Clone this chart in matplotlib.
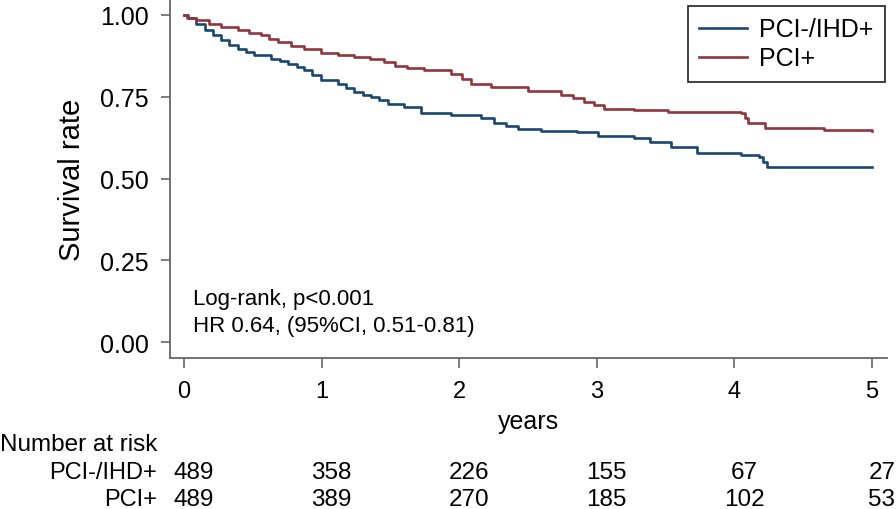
import matplotlib
matplotlib.use('Agg')
import matplotlib.pyplot as plt

plt.rcParams['font.family'] = ['Liberation Sans', 'DejaVu Sans']

# Kaplan-Meier estimates (years, survival)
t_ihd = [0, 0.03, 0.09, 0.15, 0.21, 0.27, 0.33, 0.39, 0.45, 0.51, 0.63, 0.70, 0.754,
         0.82, 0.874, 0.93, 0.996, 1.117, 1.18, 1.238, 1.30, 1.36, 1.42, 1.48, 1.60,
         1.72, 1.94, 2.16, 2.255, 2.34, 2.425, 2.594, 2.86, 3.007, 3.27, 3.39, 3.54,
         3.73, 4.05, 4.18, 4.21, 4.24, 5.0]
s_ihd = [1.0, 0.99, 0.973, 0.952, 0.938, 0.922, 0.909, 0.896, 0.885, 0.876, 0.866, 0.858, 0.851,
         0.840, 0.830, 0.815, 0.800, 0.790, 0.776, 0.764, 0.756, 0.749, 0.739, 0.729, 0.719,
         0.701, 0.693, 0.685, 0.668, 0.660, 0.652, 0.644, 0.642, 0.630, 0.624, 0.612, 0.597,
         0.579, 0.571, 0.566, 0.550, 0.536, 0.534]

t_pci = [0, 0.02, 0.087, 0.18, 0.27, 0.39, 0.47, 0.56, 0.62, 0.68, 0.78, 0.874, 0.996,
         1.117, 1.238, 1.35, 1.456, 1.53, 1.62, 1.746, 1.94, 2.02, 2.086, 2.23, 2.50,
         2.74, 2.83, 2.91, 2.98, 3.055, 3.27, 3.515, 4.05, 4.08, 4.10, 4.22, 4.65, 5.0]
s_pci = [1.0, 0.99, 0.983, 0.972, 0.962, 0.952, 0.945, 0.937, 0.927, 0.917, 0.906, 0.896, 0.883,
         0.876, 0.871, 0.864, 0.856, 0.845, 0.838, 0.830, 0.820, 0.805, 0.790, 0.780, 0.767,
         0.756, 0.745, 0.734, 0.724, 0.713, 0.708, 0.703, 0.701, 0.685, 0.668, 0.654, 0.647, 0.644]

risk_times = [0, 1, 2, 3, 4, 5]
risk_ihd = [489, 358, 226, 155, 67, 27]
risk_pci = [489, 389, 270, 185, 102, 53]

navy = '#1a476f'
maroon = '#90353b'
axcol = '#666666'

fig = plt.figure(figsize=(8.96, 5.1), dpi=100)
ax = fig.add_axes([0.1897, 0.296, 0.8003, 0.704])

ax.step(t_ihd, s_ihd, where='post', color=navy, lw=1.9, label='PCI-/IHD+')
ax.step(t_pci, s_pci, where='post', color=maroon, lw=1.9, label='PCI+')

ax.set_xlim(-0.102, 5.11)
ax.set_ylim(-0.048, 1.048)
ax.set_xticks(risk_times)
ax.set_yticks([0, 0.25, 0.5, 0.75, 1.0])
ax.set_yticklabels(['0.00', '0.25', '0.50', '0.75', '1.00'])
ax.tick_params(axis='y', labelsize=18, length=6.5, width=1.2, color=axcol, pad=9)
ax.tick_params(axis='x', labelsize=17, length=7, width=1.2, color=axcol, pad=9)
for s in ['top', 'right']:
    ax.spines[s].set_visible(False)
for s in ['left', 'bottom']:
    ax.spines[s].set_color(axcol)
    ax.spines[s].set_linewidth(1.3)

ax.set_ylabel('Survival rate', fontsize=21, labelpad=10)
ax.set_xlabel('years', fontsize=18, labelpad=5)

ax.text(0.065, 0.117, 'Log-rank, p<0.001', fontsize=16, va='baseline')
ax.text(0.065, 0.034, 'HR 0.64, (95%CI, 0.51-0.81)', fontsize=16, va='baseline')

leg = ax.legend(loc='upper right', bbox_to_anchor=(0.997, 0.98), borderaxespad=0,
                fontsize=18, frameon=True, fancybox=False, framealpha=1,
                handlelength=1.9, handletextpad=0.5, labelspacing=0.2, borderpad=0.45)
leg.get_frame().set_edgecolor('#333333')
leg.get_frame().set_linewidth(1.3)

# number at risk table
tr = ax.get_xaxis_transform()
fig.text(0.0, 1 - 445 / 510, 'Number at risk', fontsize=17.5, va='center', ha='left')
fig.text(157 / 896, 1 - 473 / 510, 'PCI-/IHD+', fontsize=17, va='center', ha='right')
fig.text(157 / 896, 1 - 500 / 510, 'PCI+', fontsize=17, va='center', ha='right')
for t, a, b in zip(risk_times, risk_ihd, risk_pci):
    ax.annotate(str(a), (t, (359 - 473) / 359), xycoords=tr, xytext=(7.2, 0),
                textcoords='offset points', ha='center', va='center', fontsize=17.5,
                annotation_clip=False)
    ax.annotate(str(b), (t, (359 - 500) / 359), xycoords=tr, xytext=(7.2, 0),
                textcoords='offset points', ha='center', va='center', fontsize=17.5,
                annotation_clip=False)

fig.savefig('out.png', dpi=100)
